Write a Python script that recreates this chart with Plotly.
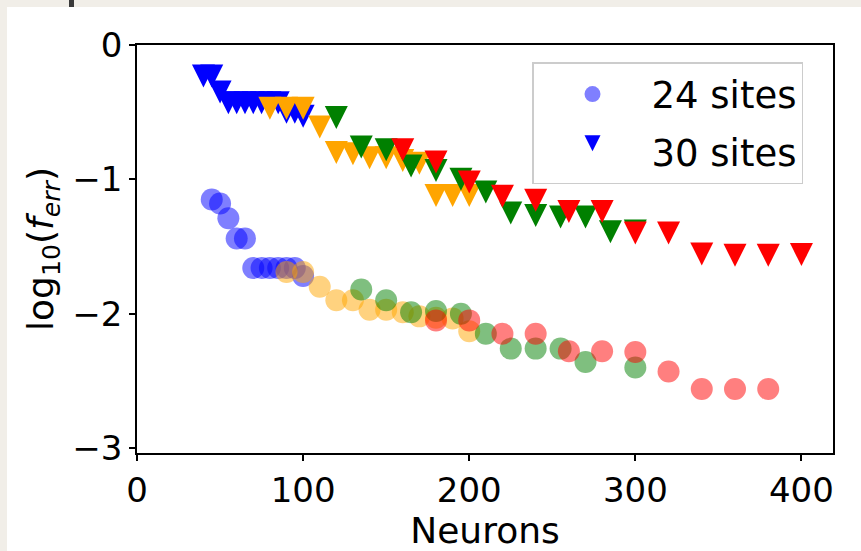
import plotly.graph_objects as go

# ---------------- data ----------------
blue24_x = [45, 50, 55, 60, 65, 70, 75, 80, 85, 90, 95, 100]
blue24_y = [-1.15, -1.18, -1.29, -1.44, -1.44, -1.66, -1.66, -1.66, -1.66, -1.66, -1.66, -1.72]

orange24_x = [90, 100, 110, 120, 130, 140, 150, 160, 170, 180, 190, 200]
orange24_y = [-1.69, -1.69, -1.80, -1.90, -1.90, -1.97, -1.97, -1.99, -2.02, -2.03, -2.035, -2.13]

green24_x = [135, 150, 165, 180, 195, 210, 225, 240, 255, 270, 300]
green24_y = [-1.82, -1.90, -1.99, -1.98, -2.00, -2.15, -2.26, -2.26, -2.26, -2.36, -2.40]

red24_x = [180, 200, 220, 240, 260, 280, 300, 320, 340, 360, 380]
red24_y = [-2.05, -2.05, -2.15, -2.15, -2.28, -2.28, -2.285, -2.43, -2.56, -2.56, -2.56]

blue30_x = [40, 45, 50, 55, 60, 65, 70, 75, 80, 85, 90, 95, 100]
blue30_y = [-0.23, -0.23, -0.35, -0.43, -0.43, -0.43, -0.43, -0.43, -0.43, -0.43, -0.50, -0.50, -0.53]

orange30_x = [80, 90, 100, 110, 120, 130, 140, 150, 160, 170, 180, 190, 200]
orange30_y = [-0.47, -0.47, -0.47, -0.61, -0.80, -0.81, -0.84, -0.84, -0.86, -0.88, -1.12, -1.12, -1.12]

green30_x = [120, 135, 150, 165, 180, 195, 210, 225, 240, 255, 270, 285, 300]
green30_y = [-0.54, -0.76, -0.78, -0.90, -0.935, -1.00, -1.095, -1.25, -1.27, -1.28, -1.28, -1.39, -1.385]

red30_x = [160, 180, 200, 220, 240, 260, 280, 300, 320, 340, 360, 380, 400]
red30_y = [-0.78, -0.87, -1.02, -1.125, -1.155, -1.24, -1.24, -1.40, -1.40, -1.555, -1.565, -1.565, -1.56]

x_ticks = [0, 100, 200, 300, 400]
y_ticks = [0, -1, -2, -3]
legend_labels = ["24 sites", "30 sites"]

# ---------------- styling ----------------
W, H = 861, 551
ML, MR, MT, MB = 137, 28, 45, 98
XR = [0, 419]
YR = [-3.037, 0]
CIRC = 22
TRI = 23
FONT = "DejaVu Sans"
PAPER = "#f1eee8"

plot_w = W - ML - MR
plot_h = H - MT - MB
px_per_unit = plot_h / (YR[1] - YR[0])
# arrow-down symbol has its tip at the data point; shift its axis so the
# triangle is centred on the value like a matplotlib 'v' marker
d = (TRI / 2) / px_per_unit

fig = go.Figure()

series = [
    ("blue", blue24_x, blue24_y, blue30_x, blue30_y),
    ("orange", orange24_x, orange24_y, orange30_x, orange30_y),
    ("green", green24_x, green24_y, green30_x, green30_y),
    ("red", red24_x, red24_y, red30_x, red30_y),
]

for color, cx, cy, tx, ty in series:
    first = color == "blue"
    fig.add_trace(go.Scatter(
        x=cx, y=cy, mode="markers",
        marker=dict(symbol="circle", size=CIRC, color=color, opacity=0.5, line=dict(width=0)),
        name=legend_labels[0], showlegend=first, legendgroup="a", yaxis="y",
    ))
    fig.add_trace(go.Scatter(
        x=tx, y=ty, mode="markers",
        marker=dict(symbol="arrow-down", size=TRI, color=color, line=dict(width=0)),
        name=legend_labels[1], showlegend=first, legendgroup="b", yaxis="y2",
    ))

axis_common = dict(
    showline=True, linecolor="black", linewidth=1.5, mirror=True,
    ticks="outside", ticklen=6, tickwidth=1.5, tickcolor="black",
    showgrid=False, zeroline=False,
    tickfont=dict(family=FONT, size=34, color="black"),
)

fig.update_layout(
    width=W, height=H,
    margin=dict(l=ML, r=MR, t=MT, b=MB, autoexpand=False),
    paper_bgcolor=PAPER,
    plot_bgcolor="white",
    font=dict(family=FONT, color="black"),
    xaxis=dict(range=XR, tickvals=x_ticks, **axis_common,
               title=dict(text="Neurons", font=dict(family=FONT, size=36), standoff=2)),
    yaxis=dict(range=YR, tickvals=y_ticks, **axis_common,
               title=dict(text="log<sub>10</sub>(<i>f</i><sub><i>err</i></sub>)",
                          font=dict(family=FONT, size=36), standoff=8)),
    yaxis2=dict(range=[YR[0] + d, YR[1] + d], overlaying="y", visible=False),
    legend=dict(
        x=(532 - ML) / plot_w, y=(H - MB - 62) / plot_h, xanchor="left", yanchor="top",
        bgcolor="rgba(255,255,255,0.8)", bordercolor="#cccccc", borderwidth=1.5,
        font=dict(family=FONT, size=37, color="black"),
        tracegroupgap=6, itemsizing="trace", itemwidth=108,
    ),
    shapes=[
        dict(type="rect", xref="paper", yref="paper", layer="below",
             x0=(7 - ML) / plot_w, x1=1.2,
             y0=-0.4, y1=(H - MB - 7) / plot_h,
             fillcolor="white", line=dict(width=0)),
        dict(type="rect", xref="paper", yref="paper", layer="below",
             x0=(69 - ML) / plot_w, x1=(74 - ML) / plot_w,
             y0=(H - MB - 7) / plot_h, y1=(H - MB + 2) / plot_h,
             fillcolor="#3a3a3a", line=dict(width=0)),
    ],
)

fig.write_html(
    "out.html",
    config={"displayModeBar": False},
    post_script=(
        "document.body.style.margin='0px';"
        "document.body.style.padding='0px';"
        "document.body.style.background='" + PAPER + "';"
    ),
)
